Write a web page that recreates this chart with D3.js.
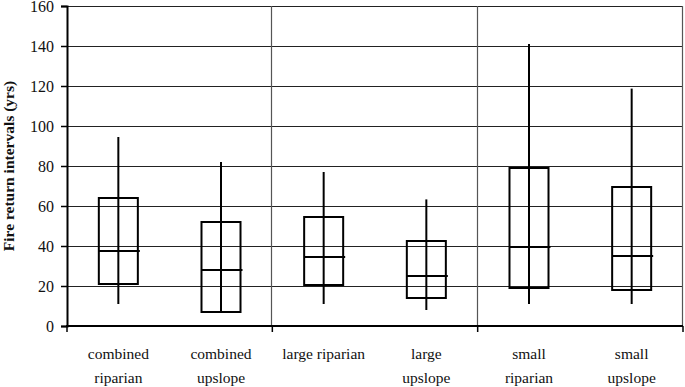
<!DOCTYPE html>
<html>
<head>
<meta charset="utf-8">
<script src="https://cdn.jsdelivr.net/npm/d3@7"></script>
<style>
  html, body { margin: 0; padding: 0; background: #fff; }
  svg { display: block; }
</style>
</head>
<body>
<svg id="chart" width="685" height="387"></svg>
<script>
// ---- data ----
const categories = [
  ["combined", "riparian"],
  ["combined", "upslope"],
  ["large riparian"],
  ["large", "upslope"],
  ["small", "riparian"],
  ["small", "upslope"]
];
const whiskerLow  = [11, 7, 11, 8, 11, 11];
const boxLow      = [21, 7, 20.5, 14, 19, 18];
const medians     = [37.5, 28, 34.5, 25, 39.5, 35];
const boxHigh     = [64, 52, 54.5, 42.5, 79, 69.5];
const whiskerHigh = [94.5, 82, 77, 63.3, 141, 118.7];
const yTicks = [0, 20, 40, 60, 80, 100, 120, 140, 160];
const groupDividers = [2, 4]; // category indices where a section line starts

// ---- layout ----
const W = 685, H = 387;
const margin = { left: 67, right: 2, top: 6, bottom: 61 };
const FONT = "'Liberation Serif', 'Times New Roman', Times, 'DejaVu Serif', serif";
const svg = d3.select("#chart");

const keys = categories.map((c, i) => i);
const x = d3.scaleBand().domain(keys).range([margin.left, W - margin.right]).padding(0);
const y = d3.scaleLinear().domain([0, 160]).range([H - margin.bottom, margin.top]);

// gridlines
svg.append("g").selectAll("line").data(yTicks.filter(d => d > 0)).join("line")
  .attr("x1", margin.left).attr("x2", W - margin.right)
  .attr("y1", d => Math.round(y(d)) + 0.5).attr("y2", d => Math.round(y(d)) + 0.5)
  .attr("stroke", "#222").attr("stroke-width", 1.2);

// section dividers and right border
const dividerX = groupDividers.map(i => x(i)).concat([W - margin.right]);
svg.append("g").selectAll("line").data(dividerX).join("line")
  .attr("x1", d => Math.round(d) - 0.5).attr("x2", d => Math.round(d) - 0.5)
  .attr("y1", y(160)).attr("y2", y(0))
  .attr("stroke", "#555").attr("stroke-width", 1.2);

// y axis
const yAxis = d3.axisLeft(y).tickValues(yTicks).tickSize(6).tickPadding(7);
const gy = svg.append("g").attr("transform", `translate(${margin.left},0)`).call(yAxis)
  .attr("font-family", null).attr("font-size", null);
gy.select(".domain").attr("stroke", "#000").attr("stroke-width", 2);
gy.selectAll(".tick line").attr("stroke", "#000").attr("stroke-width", 1.5);
gy.selectAll(".tick text")
  .style("font-family", FONT).style("font-size", "16px").attr("fill", "#111");

// x axis line
svg.append("line")
  .attr("x1", margin.left - 1).attr("x2", W - margin.right)
  .attr("y1", y(0)).attr("y2", y(0))
  .attr("stroke", "#000").attr("stroke-width", 2);
// x axis ticks at section boundaries
const xTickPos = [margin.left].concat(dividerX);
svg.append("g").selectAll("line").data(xTickPos).join("line")
  .attr("x1", d => d).attr("x2", d => d)
  .attr("y1", y(0)).attr("y2", y(0) + 6)
  .attr("stroke", "#000").attr("stroke-width", 1.5);

// category labels
const labels = svg.append("g").selectAll("text").data(categories).join("text")
  .attr("text-anchor", "middle")
  .style("font-family", FONT).style("font-size", "15.5px")
  .attr("fill", "#111")
  .attr("x", (d, i) => x(i) + x.bandwidth() / 2)
  .attr("y", 359);
labels.selectAll("tspan").data(d => d).join("tspan")
  .attr("x", function() { return d3.select(this.parentNode).attr("x"); })
  .attr("dy", (d, i) => i === 0 ? 0 : 24)
  .text(d => d);

// y axis title
svg.append("text")
  .attr("transform", `translate(14,${(y(0) + y(160)) / 2}) rotate(-90)`)
  .attr("text-anchor", "middle")
  .style("font-family", FONT).style("font-size", "15.5px").style("font-weight", "bold")
  .attr("fill", "#111")
  .text("Fire return intervals (yrs)");

// boxes
const boxW = x.bandwidth() * 0.38;
const g = svg.append("g").selectAll("g").data(keys).join("g");
g.append("line")
  .attr("x1", i => x(i) + x.bandwidth() / 2).attr("x2", i => x(i) + x.bandwidth() / 2)
  .attr("y1", i => y(whiskerLow[i])).attr("y2", i => y(whiskerHigh[i]))
  .attr("stroke", "#000").attr("stroke-width", 2);
g.append("rect")
  .attr("x", i => x(i) + x.bandwidth() / 2 - boxW / 2)
  .attr("width", boxW)
  .attr("y", i => y(boxHigh[i]))
  .attr("height", i => y(boxLow[i]) - y(boxHigh[i]))
  .attr("fill", "none").attr("stroke", "#000").attr("stroke-width", 2);
g.append("line")
  .attr("x1", i => x(i) + x.bandwidth() / 2 - boxW / 2)
  .attr("x2", i => x(i) + x.bandwidth() / 2 + boxW / 2 + 2)
  .attr("y1", i => y(medians[i])).attr("y2", i => y(medians[i]))
  .attr("stroke", "#000").attr("stroke-width", 2);
</script>
</body>
</html>
